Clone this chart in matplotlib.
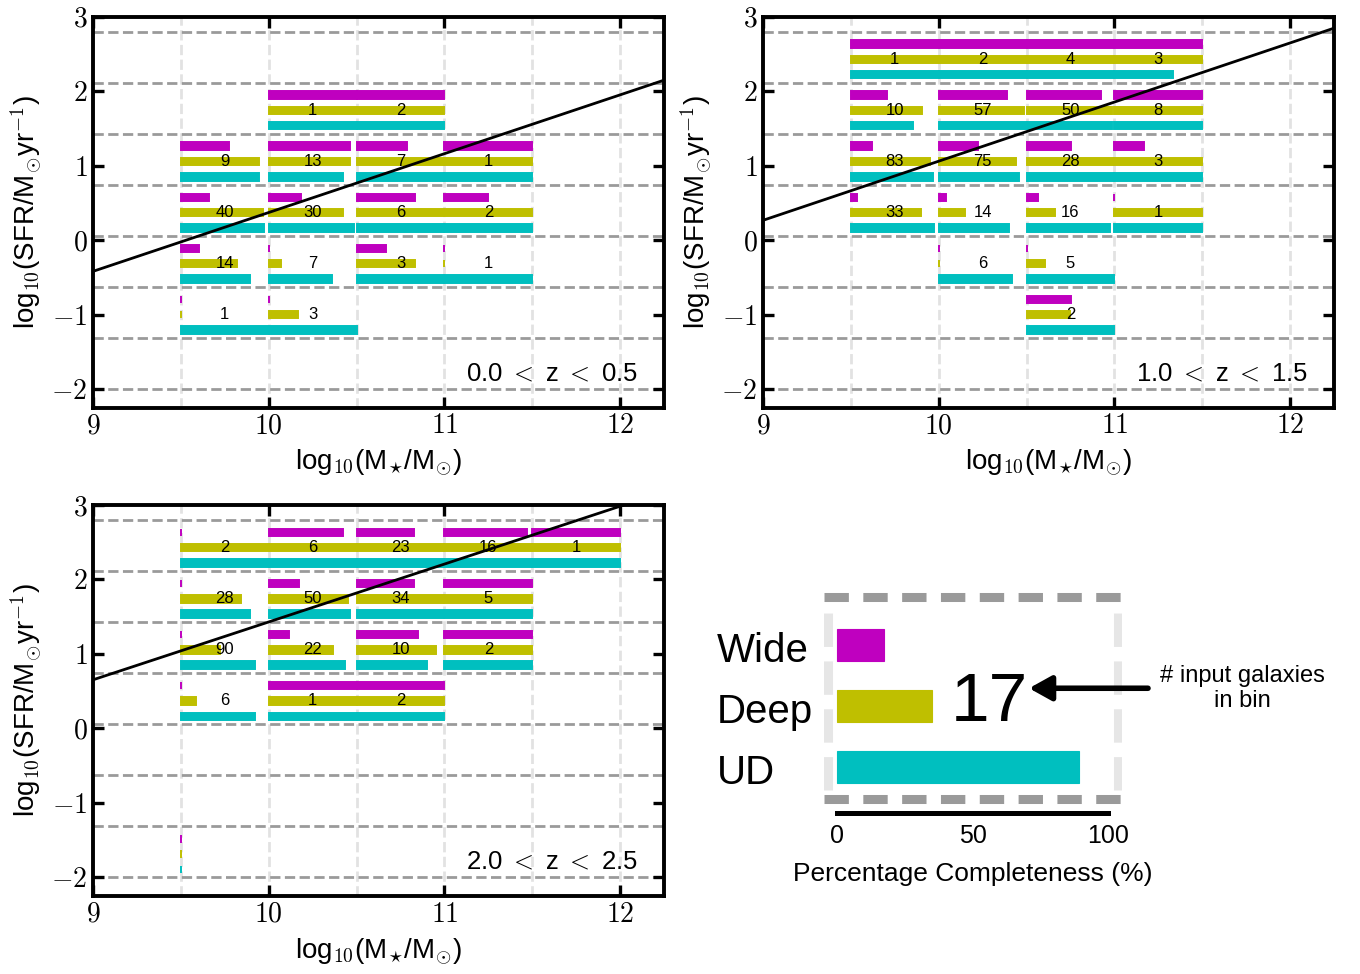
import numpy as np
import matplotlib
matplotlib.use('Agg')
import matplotlib.pyplot as plt

plt.rcParams['font.family'] = ['Liberation Sans', 'DejaVu Sans']
plt.rcParams['mathtext.fontset'] = 'cm'

#===================================================
# bins
mass_edges = [9.5, 10.0, 10.5, 11.0, 11.5, 12.0]
sfr_edges = [-2.0, -1.314, -0.629, 0.057, 0.743, 1.429, 2.114, 2.8]

C_W = '#bf00bf'
C_D = '#bfbf00'
C_U = '#00bfbf'

#===================================================
# 0.0 < z < 0.5
p1_mass = [1, 2, 0, 1, 2, 3, 0, 1, 2, 3, 0, 1, 2, 3, 0, 1]
p1_sfr = [5, 5, 4, 4, 4, 4, 3, 3, 3, 3, 2, 2, 2, 2, 1, 1]
p1_n = [1, 2, 9, 13, 7, 1, 40, 30, 6, 2, 14, 7, 3, 1, 1, 3]
p1_wide = [100, 100, 55, 93, 57, 100, 32, 37, 67, 50, 21, 0, 34, 0, 0, 0]
p1_deep = [100, 100, 89, 93, 100, 100, 93, 84, 100, 100, 64, 14, 67, 0, 0, 33]
p1_ud = [100, 100, 89, 85, 100, 100, 95, 97, 100, 100, 79, 72, 100, 100, 100, 100]

#===================================================
# 1.0 < z < 1.5
p2_mass = [0, 1, 2, 3, 0, 1, 2, 3, 0, 1, 2, 3, 0, 1, 2, 3, 1, 2, 2]
p2_sfr = [6, 6, 6, 6, 5, 5, 5, 5, 4, 4, 4, 4, 3, 3, 3, 3, 2, 2, 1]
p2_n = [1, 2, 4, 3, 10, 57, 50, 8, 83, 75, 28, 3, 33, 14, 16, 1, 6, 5, 2]
p2_wide = [100, 100, 100, 100, 41, 78, 85, 100, 24, 45, 51, 34, 7, 8, 13, 0, 0, 0, 51]
p2_deep = [100, 100, 100, 100, 81, 97, 97, 100, 90, 88, 98, 100, 80, 30, 32, 100, 0, 21, 50]
p2_ud = [100, 100, 100, 67, 71, 100, 97, 100, 93, 92, 100, 100, 95, 80, 95, 100, 84, 100, 100]

#===================================================
# 2.0 < z < 2.5
p3_mass = [0, 1, 2, 3, 4, 0, 1, 2, 3, 0, 1, 2, 3, 0, 1, 2, 0]
p3_sfr = [6, 6, 6, 6, 6, 5, 5, 5, 5, 4, 4, 4, 4, 3, 3, 3, 0]
p3_n = [2, 6, 23, 16, 1, 28, 50, 34, 5, 90, 22, 10, 2, 6, 1, 2, 0]
p3_wide = [0, 84, 65, 94, 100, 0, 34, 65, 100, 0, 23, 70, 100, 0, 100, 100, 0]
p3_deep = [100, 100, 100, 100, 100, 68, 90, 100, 100, 45, 73, 90, 100, 17, 100, 100, 0]
p3_ud = [100, 100, 100, 100, 100, 79, 92, 100, 100, 84, 87, 80, 100, 84, 100, 100, 0]

# main sequence lines: value at logM=9 and slope
ms_icept = [-0.42, 0.265, 0.653]
ms_slope = [0.79, 0.794, 0.777]
z_labels = ['0.0 $<$ z $<$ 0.5', '1.0 $<$ z $<$ 1.5', '2.0 $<$ z $<$ 2.5']

# legend example
leg_names = ['Wide', 'Deep', 'UD']
leg_vals = [17, 35, 89]
leg_n = 17

xlab = r'log$_{10}$(M$_{\star}$/M$_{\odot}$)'
ylab = r'log$_{10}$(SFR/M$_{\odot}$yr$^{-1}$)'


def draw_panel(ax, mass, sfr, n, wide, deep, ud, icept, slope, zlab):
    for y in sfr_edges:
        ax.axhline(y, color='#9a9a9a', ls='--', lw=2, zorder=1)
    for x in mass_edges:
        ax.axvline(x, color='#e2e2e2', ls='--', lw=2, zorder=0)
    for vals, frac, col in [(wide, 0.755, C_W), (deep, 0.455, C_D), (ud, 0.155, C_U)]:
        left = [mass_edges[i] for i in mass]
        yc = [sfr_edges[j] + frac * (sfr_edges[j + 1] - sfr_edges[j]) for j in sfr]
        w = [v / 100. * 0.5 for v in vals]
        ax.barh(yc, w, left=left, height=0.1, color=col, edgecolor=col,
                lw=1.4, zorder=2)
    for i, j, k in zip(mass, sfr, n):
        if k > 0:
            yy = sfr_edges[j] + 0.455 * (sfr_edges[j + 1] - sfr_edges[j])
            ax.text(mass_edges[i] + 0.25, yy, str(k), ha='center', va='center',
                    fontsize=12, zorder=4)
    xx = np.array([9.0, 12.25])
    ax.plot(xx, icept + slope * (xx - 9), color='k', lw=2, zorder=3)
    ax.text(0.955, 0.07, zlab, transform=ax.transAxes, ha='right',
            va='baseline', fontsize=18.5)
    ax.set_xlim(9, 12.25)
    ax.set_ylim(-2.25, 3)
    ax.set_xticks([9, 10, 11, 12], ['$9$', '$10$', '$11$', '$12$'])
    ax.set_yticks([-2, -1, 0, 1, 2, 3],
                  ['$-2$', '$-1$', '$0$', '$1$', '$2$', '$3$'])
    ax.tick_params(direction='in', top=True, right=True, length=8, width=2.4,
                   labelsize=20)
    ax.tick_params(axis='x', pad=4)
    ax.tick_params(axis='y', pad=4)
    for s in ax.spines.values():
        s.set_linewidth(2.8)
        s.set_zorder(5)
    ax.set_xlabel(xlab, fontsize=20, labelpad=6)
    ax.set_ylabel(ylab, fontsize=20, labelpad=5)


fig = plt.figure(figsize=(13.6, 9.74), dpi=100)
ax1 = fig.add_axes([0.0684, 0.5815, 0.4199, 0.4014])
ax2 = fig.add_axes([0.5610, 0.5815, 0.4199, 0.4014])
ax3 = fig.add_axes([0.0684, 0.0801, 0.4199, 0.4014])

draw_panel(ax1, p1_mass, p1_sfr, p1_n, p1_wide, p1_deep, p1_ud,
           ms_icept[0], ms_slope[0], z_labels[0])
draw_panel(ax2, p2_mass, p2_sfr, p2_n, p2_wide, p2_deep, p2_ud,
           ms_icept[1], ms_slope[1], z_labels[1])
draw_panel(ax3, p3_mass, p3_sfr, p3_n, p3_wide, p3_deep, p3_ud,
           ms_icept[2], ms_slope[2], z_labels[2])

#===================================================
# legend panel
axl = fig.add_axes([0.6058, 0.1653, 0.2192, 0.2286])
axl.set_xlim(-5, 105)
axl.set_ylim(-0.75, 2.9)
axl.barh([2, 1, 0], leg_vals, height=0.52, color=[C_W, C_D, C_U],
         edgecolor=[C_W, C_D, C_U], lw=0.8, zorder=2)
for y in [2.787, -0.525]:
    axl.axhline(y, color='#9a9a9a', ls=(0, (2.7, 1.6)), lw=6.5, zorder=1)
for x in [-3.3, 103.7]:
    axl.plot([x, x], [-0.38, 2.6], color='#e6e6e6', ls='--', lw=6.5, zorder=0)
for k, name in enumerate(leg_names):
    axl.text(-44.6, 2 - k - 0.27, name, ha='left', va='baseline', fontsize=29)
axl.text(56, 1.05, str(leg_n), ha='center', va='center', fontsize=50)
axl.annotate('', xy=(70.7, 1.295), xytext=(114.6, 1.295),
             arrowprops=dict(arrowstyle='-|>,head_length=0.45,head_width=0.25',
                             lw=4, color='k', mutation_scale=30,
                             shrinkA=0, shrinkB=0),
             annotation_clip=False)
axl.text(149.6, 1.295, '# input galaxies\nin bin', ha='center', va='center',
         fontsize=17)
for s in ['top', 'left', 'right']:
    axl.spines[s].set_visible(False)
axl.spines['bottom'].set_bounds(0, 100)
axl.spines['bottom'].set_linewidth(3.6)
axl.set_yticks([])
axl.set_xticks([0, 50, 100])
axl.tick_params(axis='x', length=0, labelsize=18, pad=8)
axl.set_xlabel('Percentage Completeness (%)', fontsize=19, labelpad=10)

plt.savefig('out.png', dpi=100)
